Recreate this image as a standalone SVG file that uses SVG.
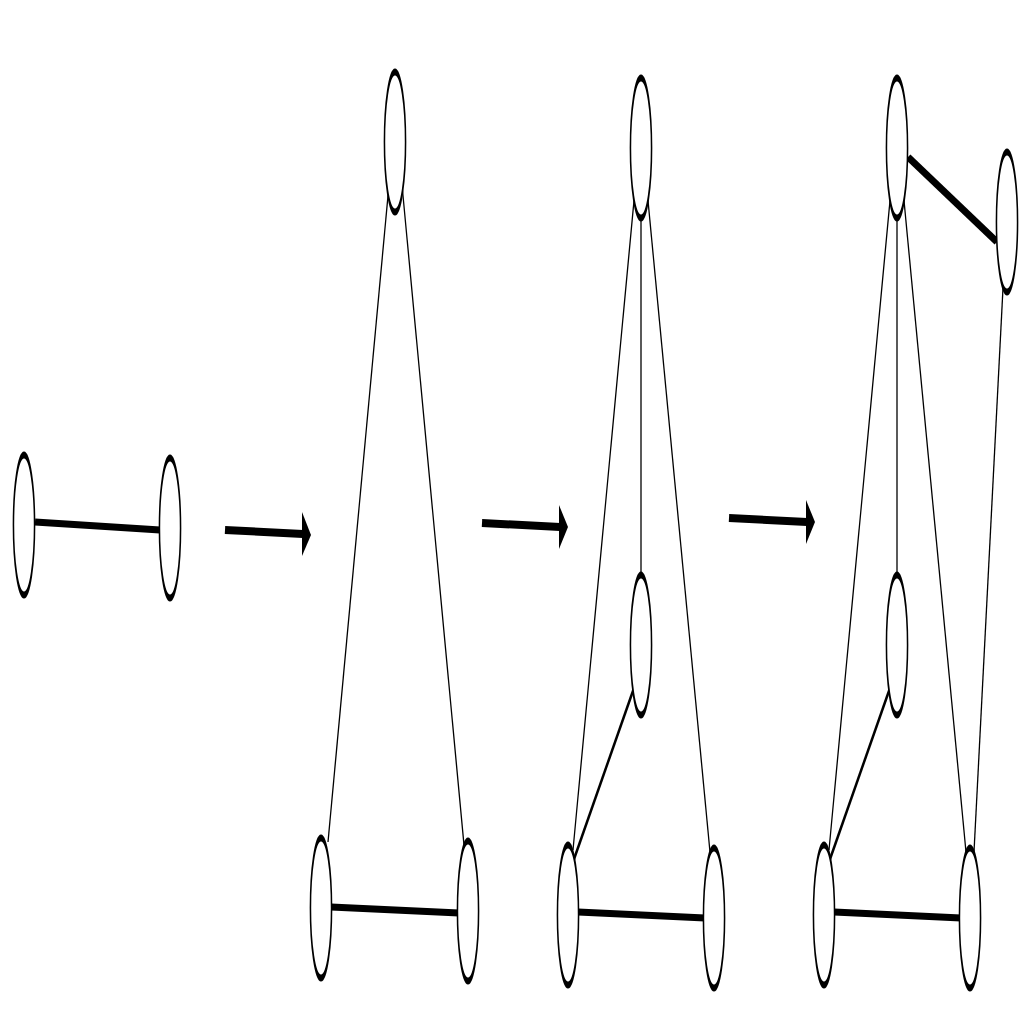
<svg xmlns="http://www.w3.org/2000/svg" width="1024" height="1024" viewBox="0 0 1024 1024">
<defs>
<style>
.n{fill:#fff;stroke:#000;stroke-width:7}
.thin{stroke:#000;stroke-width:1.3;fill:none}
.med{stroke:#000;stroke-width:2.5;fill:none}
.thick{stroke:#000;stroke-width:7;fill:none}
.arr{stroke:#000;stroke-width:8;fill:none}
.head{fill:#000}
</style>
</defs>
<rect width="1024" height="1024" fill="#fff"/>
<g id="connectors">
<line class="thick" x1="35" y1="522" x2="160" y2="530"/>
<line class="thin" x1="389" y1="185" x2="328" y2="842"/>
<line class="thin" x1="402" y1="185" x2="464" y2="845"/>
<line class="thick" x1="331" y1="907" x2="459" y2="913"/>
<line class="thin" x1="635" y1="190" x2="573" y2="850"/>
<line class="thin" x1="641" y1="215" x2="641" y2="578"/>
<line class="thin" x1="647" y1="190" x2="710" y2="852"/>
<line class="med" x1="634" y1="688" x2="573" y2="862"/>
<line class="thick" x1="578" y1="912" x2="705" y2="918"/>
<line class="thin" x1="891" y1="190" x2="829" y2="850"/>
<line class="thin" x1="897" y1="215" x2="897" y2="578"/>
<line class="thin" x1="903" y1="190" x2="966" y2="852"/>
<line class="med" x1="890" y1="688" x2="829" y2="862"/>
<line class="thin" x1="1003" y1="288" x2="974" y2="852"/>
<line class="thick" x1="908" y1="157" x2="997" y2="242"/>
<line class="thick" x1="834" y1="912" x2="961" y2="918"/>
</g>
<g id="arrows">
<line class="arr" x1="225" y1="530" x2="303" y2="534"/>
<polygon class="head" points="302,512 311,535 302,556"/>
<line class="arr" x1="482" y1="523" x2="560" y2="527"/>
<polygon class="head" points="559,505 568,527 559,549"/>
<line class="arr" x1="729" y1="518" x2="807" y2="522"/>
<polygon class="head" points="806,500 815,522 806,544"/>
</g>
<g id="n1" transform="translate(24,525)"><ellipse class="n" rx="48" ry="70" transform="scale(0.22,1)"/></g>
<g id="n2" transform="translate(170,528)"><ellipse class="n" rx="48" ry="70" transform="scale(0.22,1)"/></g>
<g id="n3" transform="translate(395,142)"><ellipse class="n" rx="48" ry="70" transform="scale(0.22,1)"/></g>
<g id="n4" transform="translate(321,908)"><ellipse class="n" rx="48" ry="70" transform="scale(0.22,1)"/></g>
<g id="n5" transform="translate(468,911)"><ellipse class="n" rx="48" ry="70" transform="scale(0.22,1)"/></g>
<g id="n6" transform="translate(641,148)"><ellipse class="n" rx="48" ry="70" transform="scale(0.22,1)"/></g>
<g id="n7" transform="translate(641,645)"><ellipse class="n" rx="48" ry="70" transform="scale(0.22,1)"/></g>
<g id="n8" transform="translate(568,915)"><ellipse class="n" rx="48" ry="70" transform="scale(0.22,1)"/></g>
<g id="n9" transform="translate(714,918)"><ellipse class="n" rx="48" ry="70" transform="scale(0.22,1)"/></g>
<g id="n10" transform="translate(897,148)"><ellipse class="n" rx="48" ry="70" transform="scale(0.22,1)"/></g>
<g id="n11" transform="translate(1007,222)"><ellipse class="n" rx="48" ry="70" transform="scale(0.22,1)"/></g>
<g id="n12" transform="translate(897,645)"><ellipse class="n" rx="48" ry="70" transform="scale(0.22,1)"/></g>
<g id="n13" transform="translate(824,915)"><ellipse class="n" rx="48" ry="70" transform="scale(0.22,1)"/></g>
<g id="n14" transform="translate(970,918)"><ellipse class="n" rx="48" ry="70" transform="scale(0.22,1)"/></g>
</svg>
